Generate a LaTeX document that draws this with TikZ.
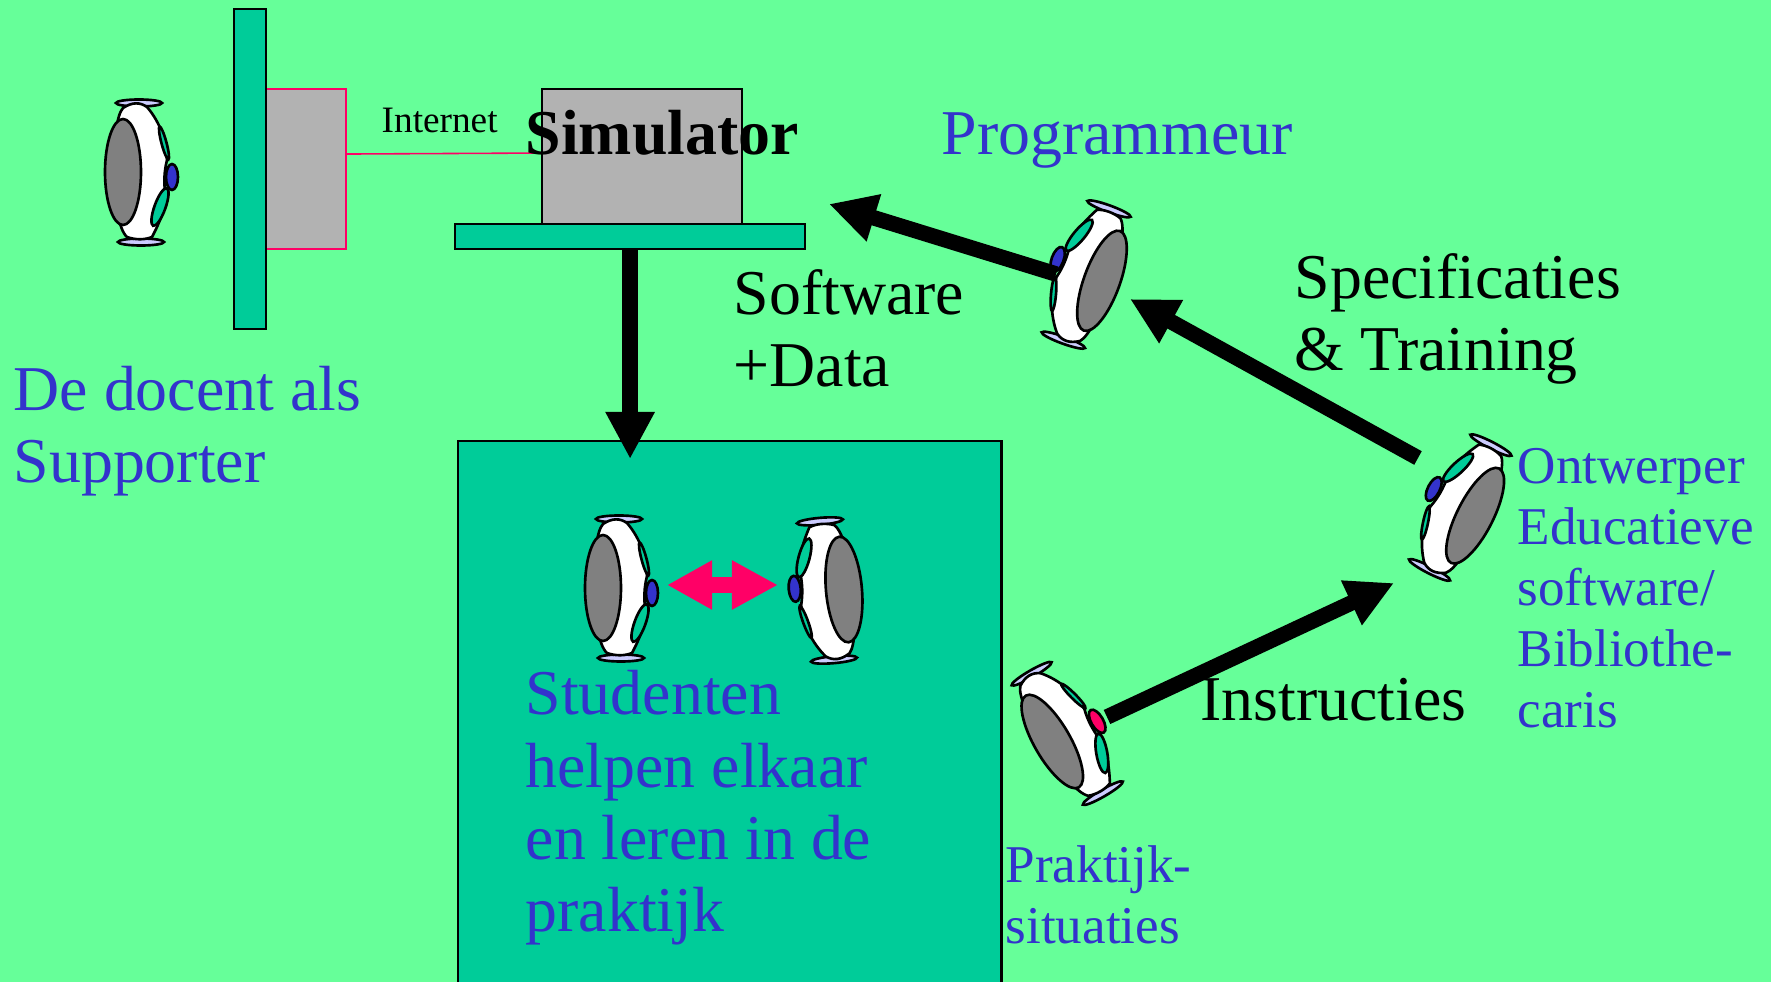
\documentclass[tikz,border=0pt]{standalone}
\usepackage{fontspec}
\setmainfont{Liberation Serif}
\usepackage{tikz}
\usetikzlibrary{arrows.meta,calc,positioning}
\definecolor{lawn}{HTML}{66FF99}
\definecolor{sea}{HTML}{00CC99}
\definecolor{panel}{HTML}{B2B2B2}
\definecolor{rose}{HTML}{FF0066}
\definecolor{ink}{HTML}{3333CC}
\definecolor{lilac}{HTML}{CCCCFF}
\tikzstyle{slab}    =[draw=black, fill=sea, line width=0.7pt, inner sep=0pt,
                      outer sep=0pt, anchor=north west]
\tikzstyle{greybox} =[draw=black, fill=panel, line width=0.7pt, inner sep=0pt,
                      outer sep=0pt, anchor=north west]
\tikzstyle{netline} =[draw=rose, line width=0.45pt]
\tikzstyle{bigarrow}=[-{Triangle[length=.47cm,width=.46cm]}, line width=.155cm]
\tikzstyle{bigtext} =[inner sep=0pt, anchor=base west, align=left,
                      font=\fontsize{18.15}{20.6}\selectfont]
\tikzstyle{midtext} =[inner sep=0pt, anchor=base west, align=left, text=ink,
                      font=\fontsize{15.1}{17.35}\selectfont]
\tikzstyle{outl}    =[draw=black, line width=0.75pt]
\tikzset{
  pics/person/.style n args={2}{code={
    \draw[outl, fill=lilac] (-1,-69) ellipse [x radius=23, y radius=3.5];
    \draw[outl, fill=lilac] (1,70) ellipse [x radius=23, y radius=3.5];
    \draw[outl, fill=white] (-17,-64) .. controls (-8,-70) and (0,-70) .. (7,-65)
      .. controls (20,-50) and (27,-30) .. (27,-12)
      .. controls (24,0) and (24,10) .. (25,20)
      .. controls (26,35) and (20,50) .. (12,65)
      .. controls (5,68) and (-5,68) .. (-13,65)
      .. controls (-30,50) and (-30,-50) .. (-17,-64) -- cycle;
    \draw[outl, fill=#2, rotate around={15:(24,-29)}] (24,-29) ellipse [x radius=2.5, y radius=17];
    \draw[outl, fill=#2, rotate around={-20:(20,35)}] (20,35) ellipse [x radius=5.5, y radius=20];
    \draw[outl, fill=#1] (32,5) ellipse [x radius=6, y radius=13];
    \draw[outl, fill=gray] (-17,0) ellipse [x radius=18, y radius=53];
  }}
}

\begin{document}
\begin{tikzpicture}[x=0.01cm, y=-0.01cm]
    \useasboundingbox (0,0) rectangle (1771,982);
    \clip (0,0) rectangle (1771,982);
    \fill[lawn] (0,0) rectangle (1771,982);

    % rooms and machines
    \node (clientbox) [greybox, draw=rose, minimum width=.8cm, minimum height=1.6cm] at (266,89) {};
    \node (wall) [slab, minimum width=.32cm, minimum height=3.2cm] at (234,9) {};
    \node (simbox) [greybox, minimum width=2cm, minimum height=1.35cm] at (542,89) {};
    \node (shelf) [slab, minimum width=3.5cm, minimum height=.25cm] at (455,224) {};
    \node (studbox) [slab, minimum width=5.43cm, minimum height=5.7cm] at (458,441) {};

    \draw[netline] ([yshift=.15cm]clientbox.east) -- ([yshift=.035cm]simbox.west);

    % the people
    \pic (docent) at (140,172) {person={ink}{sea}};
    \pic (studa) at (620,588) {person={ink}{sea}};
    \pic (studb) at (827,591) [rotate=185] {person={ink}{sea}};
    \pic (praktijk) at (1067,733) [rotate=30] {person={rose}{sea}};
    \pic (ontwerper) at (1460,508) [rotate=153] {person={ink}{sea}};
    \pic (prog) at (1086,275) [rotate=160] {person={ink}{sea}};

    % free ends of the arrows
    \coordinate (progend) at (1056,274);
    \coordinate (softtip) at (829,204);
    \coordinate (ontwend) at (1418,458);
    \coordinate (spectip) at (1130,299);
    \coordinate (praktend) at (1107,717);
    \coordinate (instip) at (1394,583);
    \coordinate (helpa) at (667,585);
    \coordinate (helpb) at (778,585);

    \draw[bigarrow] (shelf.south) -- ([yshift=-.18cm]studbox.north -| shelf.south);
    \draw[bigarrow] (progend) -- (softtip);
    \draw[bigarrow] (ontwend) -- (spectip);
    \draw[bigarrow] (praktend) -- (instip);
    \draw[rose, line width=.16cm, {Triangle[length=.45cm,width=.46cm]}-{Triangle[length=.46cm,width=.46cm]}] (helpa) -- (helpb);

    % texts
    \node (internet) [inner sep=0pt, anchor=base west, font=\fontsize{10.6}{12}\selectfont] at (381,133) {Internet};
    \node (simulator) [inner sep=0pt, anchor=base west, font=\fontsize{18.15}{20}\selectfont\bfseries] at (525,155) {Simulator};
    \node (programmeur) [bigtext, text=ink] at (941,155) {Programmeur};
    \node (supporter) [bigtext, text=ink] at (13,483) {De docent als\\Supporter};
    \node (software) [bigtext] at (733,387) {Software\\+Data};
    \node (specs) [bigtext] at (1294,371) {Specificaties\\\& Training};
    \node (instructies) [bigtext] at (1200,721) {Instructies};
    \node (studenten) [bigtext, text=ink] at (525,932) {Studenten\\helpen elkaar\\en leren in de\\praktijk};
    \node (rollen) [midtext] at (1517,728) {Ontwerper\\Educatieve\\software/\\Bibliothe-\\caris};
    \node (situaties) [midtext] at (1005,944) {Praktijk-\\situaties};
\end{tikzpicture}
\end{document}
